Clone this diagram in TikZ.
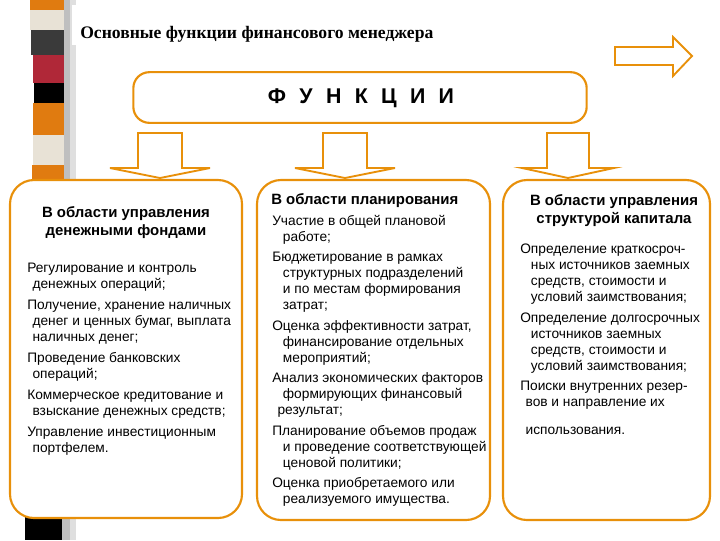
\documentclass[tikz,border=0pt]{standalone}
\usepackage{fontspec}
\setmainfont{Liberation Sans}
\newfontfamily\serifcyr{Liberation Serif}
\definecolor{orng}{HTML}{E8900A}
\definecolor{stripeor}{HTML}{E07B10}
\definecolor{beig}{HTML}{E8E2D6}
\definecolor{dgray}{HTML}{3A3A3A}
\definecolor{redd}{HTML}{B02838}
\tikzset{
  box/.style={draw=orng,line width=1.6pt,fill=white,rounded corners=18pt},
  arr/.style={draw=orng,line width=1.4pt,fill=white,line join=miter},
  body/.style={anchor=north west,align=left,inner sep=0pt,font=\fontsize{10.3}{12}\selectfont},
  head/.style={inner sep=0pt,font=\fontsize{11.2}{13.5}\selectfont\bfseries}
}
\newcommand{\ind}{\hspace*{4pt}}
\begin{document}
\begin{tikzpicture}[x=0.75pt,y=-0.75pt]
\useasboundingbox (0,0) rectangle (720,540);
% stripe
\fill[gray!50] (60,0) rectangle (70,540);
\fill[gray!25] (70,0) rectangle (76,540);
\fill[stripeor] (30,0) rectangle (64,10);
\fill[beig] (30,10) rectangle (64,30);
\fill[dgray] (31,30) rectangle (64,55);
\fill[redd] (33,55) rectangle (64,83);
\fill[black] (34,83) rectangle (64,103);
\fill[stripeor] (33,103) rectangle (64,135);
\fill[beig] (33,135) rectangle (64,165);
\fill[stripeor] (32,165) rectangle (64,185);
\fill[black] (25,515) rectangle (62,540);
\fill[white] (72,5) rectangle (450,45);
\node[anchor=west,inner sep=0pt,font=\serifcyr\fontsize{13.2}{15}\selectfont\bfseries] (ttl) at (80,34) {Основные функции финансового менеджера};
% right arrow
\draw[arr] (615,47) -- (673,47) -- (673,37) -- (692,56) -- (673,76) -- (673,65) -- (615,65) -- cycle;
% title box
\node[box,minimum width=340pt,minimum height=38pt,rounded corners=12pt] (fb) at (360,97.5) {};
\node[font=\fontsize{16}{18}\selectfont\bfseries] (fn) at (361,98) {Ф\hspace{10pt}У\hspace{10pt}Н\hspace{10pt}К\hspace{10pt}Ц\hspace{10pt}И\hspace{10pt}И};
% down arrows
\foreach \c/\w/\h/\n in {160/22/50/a1,345/22/50/a2,568/21/46/a3}{
  \draw[arr] (\c-\w,133) -- (\c+\w,133) -- (\c+\w,168) -- (\c+\h,168) -- (\c,178) -- (\c-\h,168) -- (\c-\w,168) -- cycle;
}
% boxes
\draw[box] (10,180) rectangle (242,518);
\draw[box] (257,180) rectangle (490,520);
\draw[box] (503,180) rectangle (710,520);
% left
\node[head,align=center] (h1) at (126,223) {В области управления\\денежными фондами};
\node[body] (b1) at (27,263) {Регулирование и контроль\\\ind денежных операций;\\[3.8pt]
Получение, хранение наличных\\\ind денег и ценных бумаг, выплата\\\ind наличных денег;\\[3.8pt]
Проведение банковских\\\ind операций;\\[3.8pt]
Коммерческое кредитование и\\\ind взыскание денежных средств;\\[3.8pt]
Управление инвестиционным\\\ind портфелем.};
% middle
\node[head,anchor=west] (h2) at (271,201) {В области планирования};
\node[body] (b2) at (272,215) {Участие в общей плановой\\\ind\ind работе;\\[3.3pt]
Бюджетирование в рамках\\\ind\ind структурных подразделений\\\ind\ind и по местам формирования\\\ind\ind затрат;\\[3.3pt]
Оценка эффективности затрат,\\\ind\ind финансирование отдельных\\\ind\ind мероприятий;\\[3.3pt]
Анализ экономических факторов\\\ind\ind формирующих финансовый\\\ind результат;\\[3.3pt]
Планирование объемов продаж\\\ind\ind и проведение соответствующей\\\ind\ind ценовой политики;\\[3.3pt]
Оценка приобретаемого или\\\ind\ind реализуемого имущества.};
% right
\node[head,align=center] (h3) at (614,211) {В области управления\\структурой капитала};
\node[body] (b3) at (520,244) {Определение краткосроч-\\\ind\ind ных источников заемных\\\ind\ind средств, стоимости и\\\ind\ind условий заимствования;\\[3.3pt]
Определение долгосрочных\\\ind\ind источников заемных\\\ind\ind средств, стоимости и\\\ind\ind условий заимствования;\\[3.3pt]
Поиски внутренних резер-\\\ind вов и направление их\\[9pt]
\ind использования.};
\end{tikzpicture}
\end{document}
